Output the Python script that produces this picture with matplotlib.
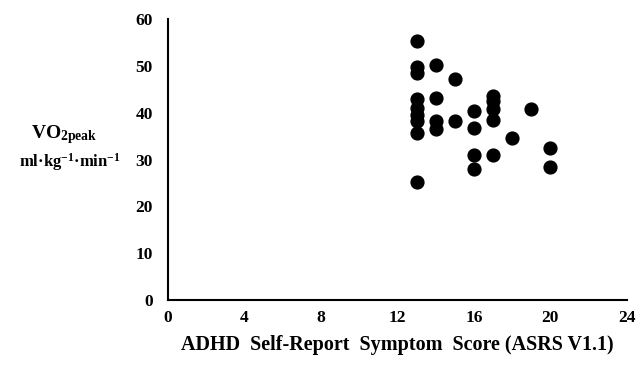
import matplotlib
matplotlib.use('Agg')

from matplotlib import pyplot as plt

# ASRS score vs VO2peak
asrs = [13, 13, 13, 13, 13, 13, 13, 13, 13,
        14, 14, 14, 14,
        15, 15,
        16, 16, 16, 16,
        17, 17, 17, 17, 17,
        18, 19, 20, 20]
vo2 = [55.4, 49.8, 48.5, 43.0, 41.0, 39.5, 38.2, 35.7, 25.2,
       50.1, 43.1, 38.3, 36.5,
       47.1, 38.2,
       40.3, 36.7, 30.9, 27.9,
       43.5, 42.4, 40.8, 38.5, 31.0,
       34.6, 40.8, 32.4, 28.3]

xticks = [0, 4, 8, 12, 16, 20, 24]
yticks = [0, 10, 20, 30, 40, 50, 60]

plt.rcParams['font.family'] = 'Liberation Serif'
plt.rcParams['font.weight'] = 'bold'
plt.rcParams['mathtext.fontset'] = 'custom'
plt.rcParams['mathtext.rm'] = 'Liberation Serif:bold'
plt.rcParams['mathtext.bf'] = 'Liberation Serif:bold'
plt.rcParams['mathtext.it'] = 'Liberation Serif:bold'

fig = plt.figure(figsize=(6.39, 3.65), dpi=100)
ax = fig.add_axes([0.263, 0.178, 0.718, 0.770])

ax.scatter(asrs, vo2, s=85, color='black', zorder=3)

ax.set_xlim(0, 24)
ax.set_ylim(0, 60)
ax.set_xticks(xticks)
ax.set_yticks(yticks)
ax.tick_params(axis='both', length=0, labelsize=12.5)
ax.tick_params(axis='y', pad=11)
ax.tick_params(axis='x', pad=7)
for lab in ax.get_xticklabels() + ax.get_yticklabels():
    lab.set_fontweight('bold')

ax.spines['top'].set_visible(False)
ax.spines['right'].set_visible(False)
ax.spines['left'].set_linewidth(1.5)
ax.spines['bottom'].set_linewidth(1.5)

ax.set_xlabel('ADHD  Self-Report  Symptom  Score (ASRS V1.1)',
              fontsize=14.5, fontweight='bold', labelpad=7)

fig.text(0.101, 0.630, r'VO$_{\mathrm{2peak}}$', fontsize=14,
         fontweight='bold', ha='center', va='center')
fig.text(0.11, 0.556, r'ml·kg$^{\mathrm{-1}}$·min$^{\mathrm{-1}}$',
         fontsize=12, fontweight='bold', ha='center', va='center')

plt.savefig('out.png', dpi=100)
